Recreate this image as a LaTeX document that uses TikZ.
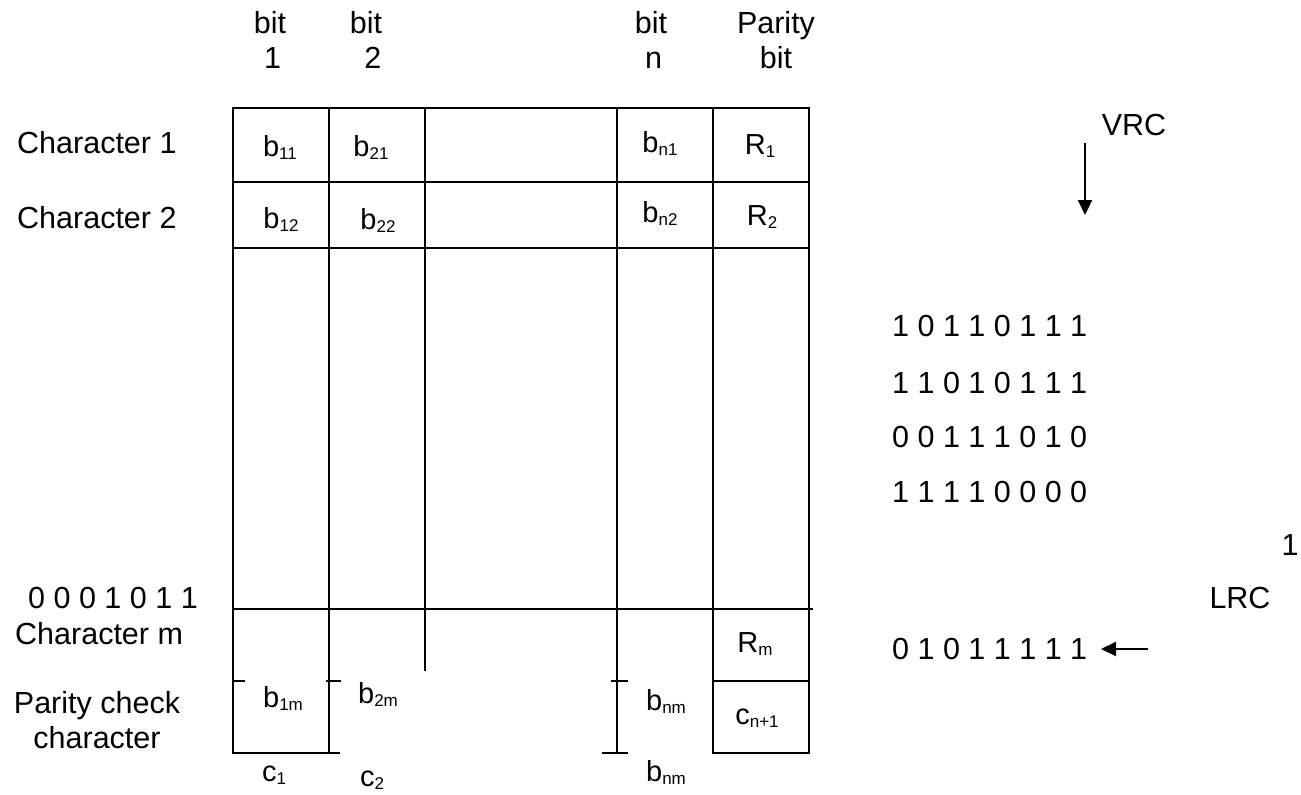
\documentclass[tikz,border=0pt]{standalone}
\usepackage{fontspec}
\setmainfont{Liberation Sans}
\usetikzlibrary{arrows.meta}
% subscript: small figures dropped a little below the baseline
\newcommand\lo[1]{\raisebox{-3pt}{\fontsize{17}{17}\selectfont #1}}
\begin{document}
\begin{tikzpicture}[x=1pt,y=-1pt,
  txt/.style={inner sep=0pt, font=\fontsize{30.5}{35}\selectfont, align=center},
  cell/.style={inner sep=0pt, anchor=base, font=\fontsize{29}{32}\selectfont},
  grid/.style={line width=2.1pt, line cap=rect},
  arr/.style={line width=2.1pt, -{Triangle[length=15pt,width=14pt]}}]
\useasboundingbox (0,0) rectangle (1301,795);

% column headings
\node[txt] (h1) at (270,40) {bit\\\,1};
\node[txt] (h2) at (366,40) {bit\\\ \,2};
\node[txt] (hn) at (651,40) {bit\\\,n};
\node[txt] (hp) at (776,40) {Parity\\bit};

% row labels
\node[txt, anchor=west] (c1) at (17,143) {Character 1};
\node[txt, anchor=west] (c2) at (17,218) {Character 2};
\node[txt, anchor=west] (lrcrow) at (28,598) {0 0 0 1 0 1 1};
\node[txt, anchor=west] (cm) at (15,634) {Character m};
\node[txt] (pc) at (97,720) {Parity check\\character};

% table frame and rules
\draw[grid] (233,108) -- (809,108);
\draw[grid] (233,182) -- (809,182);
\draw[grid] (233,248) -- (809,248);
\draw[grid] (233,609) -- (812,609);
\draw[grid] (233,108) -- (233,753) -- (339,753);
\draw[grid] (329,108) -- (329,753);
\draw[grid] (425,108) -- (425,670);
\draw[grid] (617,108) -- (617,753);
\draw[grid] (713,108) -- (713,753) -- (809,753) -- (809,108);
\draw[grid] (713,681) -- (809,681);
% short ticks
\draw[grid] (233,681) -- (244,681);
\draw[grid] (327,681) -- (340,681);
\draw[grid] (612,681) -- (627,681);
\draw[grid] (603,753) -- (627,753);

% cell entries
\node[cell] (b11) at (280,156) {b\lo{11}};
\node[cell] (b21) at (371,156) {b\lo{21}};
\node[cell] (bn1) at (660,152) {b\lo{n1}};
\node[cell] (r1)  at (760,154) {R\lo{1}};
\node[cell] (b12) at (281,228) {b\lo{12}};
\node[cell] (b22) at (378,229) {b\lo{22}};
\node[cell] (bn2) at (660,222) {b\lo{n2}};
\node[cell] (r2)  at (762,225) {R\lo{2}};
\node[cell] (rm)  at (755,652) {R\lo{m}};
\node[cell] (b1m) at (283,707) {b\lo{1m}};
\node[cell] (b2m) at (378,703) {b\lo{2m}};
\node[cell] (bnm) at (666,710) {b\lo{nm}};
\node[cell] (cn1) at (757,724) {c\lo{n+1}};
\node[cell] (cc1) at (274,781) {c\lo{1}};
\node[cell] (cc2) at (372,786) {c\lo{2}};
\node[cell] (bnm2) at (666,781) {b\lo{nm}};

% data words
\node[txt, anchor=west] (w1) at (892,326) {1 0 1 1 0 1 1 1};
\node[txt, anchor=west] (w2) at (892,383) {1 1 0 1 0 1 1 1};
\node[txt, anchor=west] (w3) at (892,437) {0 0 1 1 1 0 1 0};
\node[txt, anchor=west] (w4) at (892,492) {1 1 1 1 0 0 0 0};
\node[txt] (one) at (1290,545) {1};
\node[txt] (lrc) at (1240,598) {LRC};
\node[txt, anchor=west] (w5) at (892,649) {0 1 0 1 1 1 1 1};
\node[txt, anchor=base] (vrc) at (1134,135) {VRC};

% VRC and LRC arrows
\coordinate (va) at (1085,143);
\coordinate (vb) at (1085,215);
\draw[arr] (va) -- (vb);
\coordinate (la) at (1148,649);
\coordinate (lb) at (1101,649);
\draw[arr] (la) -- (lb);
\end{tikzpicture}
\end{document}
